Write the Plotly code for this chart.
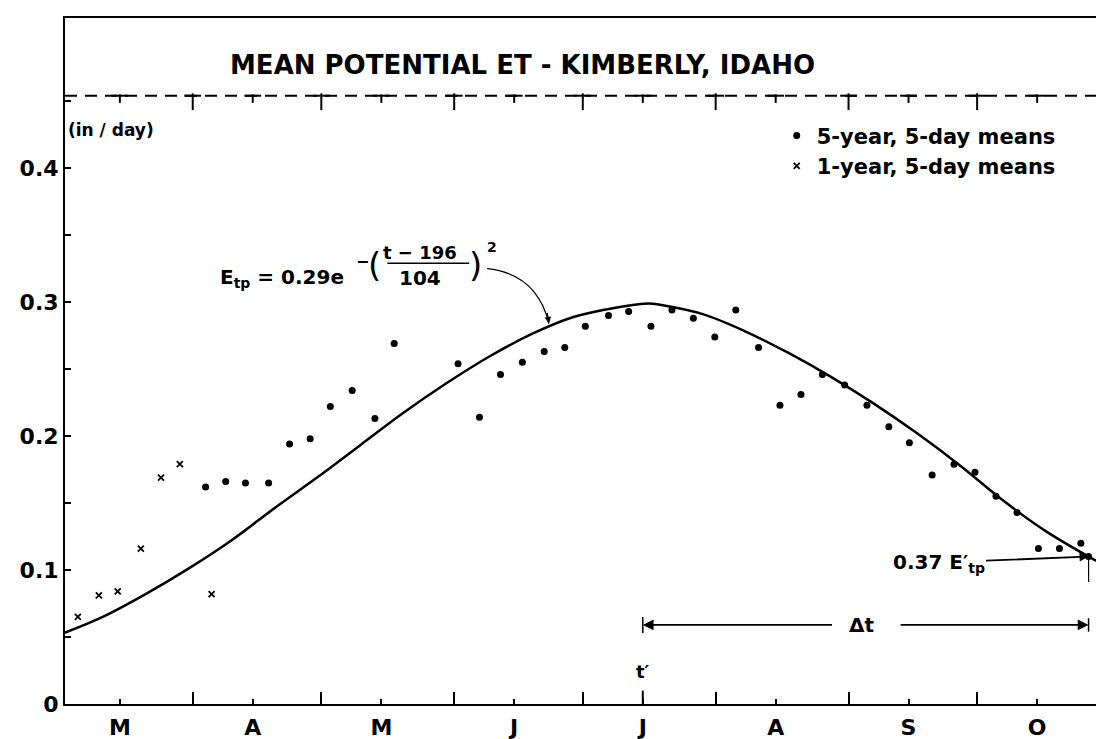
import plotly.graph_objects as go

# ---------------- data (day of year / in per day) ----------------
month_labels = ["M", "A", "M", "J", "J", "A", "S", "O"]
month_mids = [74, 105, 135, 166, 196, 227, 258, 288]          # 15th of each month
month_starts = [91, 121, 152, 182, 213, 244, 274]             # 1st of Apr..Oct

y_ticks = [0, 0.05, 0.1, 0.15, 0.2, 0.25, 0.3, 0.35, 0.4, 0.45]
y_labels = ["0", "", "0.1", "", "0.2", "", "0.3", "", "0.4", ""]

curve_day = [61, 70, 80, 90, 100, 110, 120, 130, 140, 150, 160, 170, 180, 190,
             197.5, 200, 210, 220, 230, 240, 250, 260, 270, 280, 290, 300, 303.5]
curve_val = [0.053, 0.065, 0.082, 0.101, 0.122, 0.146, 0.169, 0.193, 0.217, 0.239,
             0.259, 0.276, 0.289, 0.296, 0.299, 0.298, 0.291, 0.278, 0.262, 0.244,
             0.224, 0.202, 0.178, 0.152, 0.129, 0.110, 0.104]

five_year_day = [94.0, 98.7, 103.3, 108.7, 113.6, 118.4, 123.1, 128.2, 133.5, 138.0,
                 152.9, 157.9, 162.8, 167.9, 173.0, 177.8, 182.6, 188.0, 192.7, 197.9,
                 202.8, 207.8, 212.8, 217.7, 223.0, 228.0, 232.9, 237.9, 243.1, 248.3,
                 253.4, 258.2, 263.5, 268.6, 273.5, 278.4, 283.3, 288.3, 293.2, 298.2]
five_year_val = [0.162, 0.166, 0.165, 0.165, 0.194, 0.198, 0.222, 0.234, 0.213, 0.269,
                 0.254, 0.214, 0.246, 0.255, 0.263, 0.266, 0.282, 0.290, 0.293, 0.282,
                 0.294, 0.288, 0.274, 0.294, 0.266, 0.223, 0.231, 0.246, 0.238, 0.223,
                 0.207, 0.195, 0.171, 0.179, 0.173, 0.155, 0.143, 0.116, 0.116, 0.120]

one_year_day = [64.2, 69.1, 73.5, 78.9, 83.6, 88.0, 95.4]
one_year_val = [0.065, 0.081, 0.084, 0.116, 0.169, 0.179, 0.082]

t_prime = 196          # t'
delta_t = 104          # Δt
t_end_val = 0.110      # 0.37 E'tp point on the curve
ref_level = 0.454      # upper dashed reference line

x_range = [61.2, 303.6]
y_range = [0, 0.512]

FONT = "DejaVu Sans"
BLACK = "black"


def txt(s):
    return "<b>" + s + "</b>"


fig = go.Figure()

# fitted curve
fig.add_trace(go.Scatter(x=curve_day, y=curve_val, mode="lines", line_shape="spline",
                         line=dict(color=BLACK, width=2.5), showlegend=False, hoverinfo="skip"))

# measured points
fig.add_trace(go.Scatter(x=five_year_day, y=five_year_val, mode="markers",
                         name=txt("5-year, 5-day means"),
                         marker=dict(symbol="circle", size=7, color=BLACK)))
fig.add_trace(go.Scatter(x=one_year_day, y=one_year_val, mode="markers",
                         name=txt("1-year, 5-day means"),
                         marker=dict(symbol="x-thin", size=6, color=BLACK,
                                     line=dict(width=1.8, color=BLACK))))

# end point t' + Δt on the curve
fig.add_trace(go.Scatter(x=[t_prime + delta_t], y=[t_end_val], mode="markers",
                         marker=dict(symbol="circle", size=7, color=BLACK),
                         showlegend=False, hoverinfo="skip"))

# upper dashed line with T marks
fig.add_trace(go.Scatter(x=x_range, y=[ref_level, ref_level], mode="lines",
                         line=dict(color=BLACK, width=2, dash="12px,8px"),
                         showlegend=False, hoverinfo="skip"))
fig.add_trace(go.Scatter(x=month_starts + month_mids,
                         y=[ref_level] * (len(month_starts) + len(month_mids)),
                         mode="markers",
                         marker=dict(symbol="line-ew", size=12,
                                     line=dict(width=2, color=BLACK)),
                         showlegend=False, hoverinfo="skip"))
fig.add_trace(go.Scatter(x=month_starts, y=[ref_level - 0.0045] * len(month_starts),
                         mode="markers",
                         marker=dict(symbol="line-ns", size=12,
                                     line=dict(width=2, color=BLACK)),
                         showlegend=False, hoverinfo="skip"))
fig.add_trace(go.Scatter(x=month_mids, y=[ref_level - 0.0022] * len(month_mids),
                         mode="markers",
                         marker=dict(symbol="line-ns", size=6,
                                     line=dict(width=2, color=BLACK)),
                         showlegend=False, hoverinfo="skip"))

shapes = []
annotations = []

# t' tick on the time axis
shapes.append(dict(type="line", xref="x", yref="y", x0=t_prime, x1=t_prime,
                   y0=0, y1=0.0100, line=dict(color=BLACK, width=2)))
annotations.append(dict(x=t_prime, y=0.024, xref="x", yref="y", text=txt("t′"),
                        showarrow=False, font=dict(family=FONT, size=18, color=BLACK)))

# Δt dimension arrow
dt_y = 0.059
shapes.append(dict(type="line", xref="x", yref="y", x0=t_prime, x1=t_prime,
                   y0=dt_y - 0.006, y1=dt_y + 0.006, line=dict(color=BLACK, width=1.5)))
shapes.append(dict(type="line", xref="x", yref="y", x0=t_prime + delta_t, x1=t_prime + delta_t,
                   y0=dt_y - 0.005, y1=dt_y + 0.005, line=dict(color=BLACK, width=1.5)))
annotations.append(dict(x=t_prime, y=dt_y, ax=t_prime + 44.5, ay=dt_y, xref="x", yref="y",
                        axref="x", ayref="y", text="", showarrow=True, arrowhead=2,
                        arrowsize=1.2, arrowwidth=1.8, arrowcolor=BLACK))
annotations.append(dict(x=t_prime + delta_t, y=dt_y, ax=t_prime + 59.8, ay=dt_y, xref="x",
                        yref="y", axref="x", ayref="y", text="", showarrow=True,
                        arrowhead=2, arrowsize=1.2, arrowwidth=1.8, arrowcolor=BLACK))
annotations.append(dict(x=t_prime + delta_t / 2 - 1, y=dt_y, xref="x", yref="y", text=txt("Δt"),
                        showarrow=False, font=dict(family=FONT, size=20, color=BLACK)))

# vertical mark at t' + Δt under the curve point
shapes.append(dict(type="line", xref="x", yref="y", x0=t_prime + delta_t, x1=t_prime + delta_t,
                   y0=0.091, y1=t_end_val, line=dict(color=BLACK, width=1.2)))

# 0.37 E'tp label
annotations.append(dict(x=t_prime + delta_t, y=t_end_val, xref="x", yref="y",
                        text=txt("0.37 E′<sub>tp</sub>"), showarrow=True, ax=-150, ay=6,
                        arrowhead=2, arrowsize=1, arrowwidth=1.8, arrowcolor=BLACK,
                        font=dict(family=FONT, size=20, color=BLACK)))

# equation
annotations.append(dict(x=96.9, y=0.318, xref="x", yref="y", xanchor="left",
                        text=txt("E<sub>tp</sub> = 0.29e"), showarrow=False,
                        font=dict(family=FONT, size=20, color=BLACK)))
annotations.append(dict(x=130.6, y=0.330, xref="x", yref="y", text=txt("−"),
                        showarrow=False, font=dict(family=FONT, size=16, color=BLACK)))
annotations.append(dict(x=133.3, y=0.328, xref="x", yref="y", text="(",
                        showarrow=False, font=dict(family=FONT, size=34, color=BLACK)))
annotations.append(dict(x=144.1, y=0.337, xref="x", yref="y", text=txt("t − 196"),
                        showarrow=False, font=dict(family=FONT, size=18, color=BLACK)))
annotations.append(dict(x=144.1, y=0.318, xref="x", yref="y", text=txt("104"),
                        showarrow=False, font=dict(family=FONT, size=20, color=BLACK)))
annotations.append(dict(x=156.9, y=0.328, xref="x", yref="y", text=")",
                        showarrow=False, font=dict(family=FONT, size=34, color=BLACK)))
annotations.append(dict(x=160.9, y=0.341, xref="x", yref="y", text=txt("2"),
                        showarrow=False, font=dict(family=FONT, size=14, color=BLACK)))
shapes.append(dict(type="line", xref="x", yref="y", x0=136.4, x1=155.5, y0=0.329, y1=0.329,
                   line=dict(color=BLACK, width=1.5)))
# curved leader to the curve
shapes.append(dict(type="path", xref="x", yref="y",
                   path="M 159.7,0.325 Q 171.3,0.321 174.1,0.284",
                   line=dict(color=BLACK, width=1.3)))
annotations.append(dict(x=174.1, y=0.284, ax=-2, ay=-12, xref="x", yref="y", text="",
                        showarrow=True, arrowhead=2, arrowsize=1, arrowwidth=1.3,
                        arrowcolor=BLACK))

# title and unit
annotations.append(dict(x=0.44, y=0.9565, xref="paper", yref="paper",
                        text=txt("MEAN POTENTIAL ET - KIMBERLY, IDAHO"), showarrow=False,
                        font=dict(family=FONT, size=26, color=BLACK)))
annotations.append(dict(x=0.001, y=0.854, xref="paper", yref="paper", xanchor="left",
                        text=txt("(in / day)"), showarrow=False,
                        font=dict(family=FONT, size=17, color=BLACK)))

fig.update_layout(
    width=1104, height=739,
    margin=dict(l=57, r=6, t=10, b=43),
    plot_bgcolor="white", paper_bgcolor="white",
    shapes=shapes, annotations=annotations,
    legend=dict(x=0.685, y=0.858, xanchor="left", yanchor="top",
                font=dict(family=FONT, size=21, color=BLACK),
                bgcolor="rgba(0,0,0,0)", itemwidth=30, tracegroupgap=0),
    xaxis=dict(range=x_range, tickmode="array", tickvals=month_mids,
               ticktext=[txt(m) for m in month_labels],
               ticks="inside", ticklen=5, tickwidth=2, tickcolor=BLACK,
               showline=True, linewidth=2, linecolor=BLACK, mirror=True,
               showgrid=False, zeroline=False, ticklabelstandoff=3,
               tickfont=dict(family=FONT, size=22, color=BLACK),
               minor=dict(tickmode="array", tickvals=month_starts, ticks="inside",
                          ticklen=12, tickwidth=2, tickcolor=BLACK, showgrid=False)),
    yaxis=dict(range=y_range, tickmode="array", tickvals=y_ticks,
               ticktext=[txt(s) if s else "" for s in y_labels],
               ticks="inside", ticklen=6, tickwidth=2, tickcolor=BLACK,
               showline=True, linewidth=2, linecolor=BLACK, mirror=True,
               showgrid=False, zeroline=False,
               tickfont=dict(family=FONT, size=22, color=BLACK)),
)

fig.write_html("out.html")
